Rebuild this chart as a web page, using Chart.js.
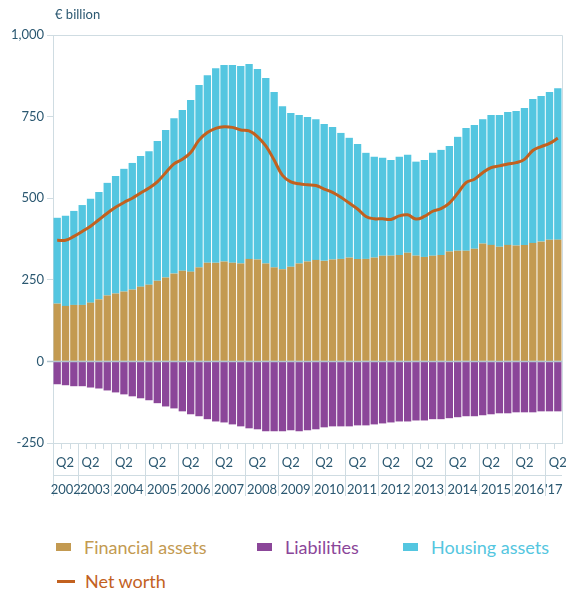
<!DOCTYPE html>
<html>
<head>
<meta charset="utf-8">
<script src="https://cdn.jsdelivr.net/npm/chart.js@4"></script>
<style>
  body { margin: 0; background: #fff; font-family: Lato, sans-serif; }
  #wrap { position: relative; width: 566px; height: 589px; }
  #unit { position: absolute; left: 55px; top: 6px; font-size: 13px; color: #2b5871; }
  canvas { position: absolute; left: 0; top: 0; }
  .item { position: absolute; display: flex; align-items: center; font-size: 18px; white-space: nowrap; }
  .swatch { display: inline-block; margin-right: 13px; }
</style>
</head>
<body>
<div id="wrap">
  <canvas id="chart" width="566" height="505"></canvas>
  <div id="unit">€ billion</div>
  <div id="legend"></div>
</div>
<script>
// ===== Data (quarterly, 2002 Q2 - 2017 Q2) =====
let years = ["2002", "2003", "2004", "2005", "2006", "2007", "2008", "2009",
  "2010", "2011", "2012", "2013", "2014", "2015", "2016", "'17"];
let firstQuarter = 2;
let lastQuarter = 2;

let financialAssets = [177, 170, 173, 173, 180, 190, 202, 208, 214, 220,
  229, 235, 247, 257, 269, 278, 275, 288, 302, 302,
  306, 302, 300, 314, 312, 300, 288, 282, 290, 300,
  306, 311, 308, 312, 314, 318, 314, 314, 318, 324,
  324, 326, 333, 324, 320, 324, 326, 337, 339, 339,
  345, 361, 357, 351, 357, 355, 357, 363, 367, 373, 373];

let liabilities = [-70, -73, -76, -76, -80, -83, -89, -95, -101, -107,
  -113, -119, -128, -138, -144, -153, -162, -168, -177, -184,
  -187, -193, -199, -205, -208, -214, -214, -214, -211, -214,
  -211, -208, -202, -199, -199, -199, -196, -196, -193, -190,
  -187, -184, -184, -181, -181, -177, -177, -174, -171, -168,
  -168, -165, -162, -159, -159, -156, -156, -156, -153, -153, -153];

let housingAssets = [263, 276, 288, 306, 318, 329, 345, 360, 376, 388,
  400, 409, 428, 452, 476, 492, 526, 559, 575, 596,
  602, 606, 605, 597, 584, 568, 537, 500, 471, 455,
  443, 431, 419, 406, 386, 367, 352, 325, 309, 300,
  293, 301, 300, 288, 297, 315, 322, 323, 349, 376,
  379, 381, 398, 404, 407, 412, 419, 441, 446, 452, 464];

let netWorth = [371, 371, 383, 398, 414, 434, 454, 472, 487, 500,
  516, 531, 550, 578, 605, 619, 640, 678, 701, 714,
  719, 717, 709, 706, 689, 660, 617, 570, 550, 544,
  541, 539, 528, 518, 503, 485, 467, 444, 437, 437,
  435, 446, 449, 436, 444, 460, 468, 485, 515, 548,
  558, 578, 594, 599, 605, 609, 619, 646, 658, 668, 684];

let yTicks = [-250, 0, 250, 500, 750, 1000];

// ===== Colours =====
let cFinancial = "#c39a51";
let cLiab = "#8b4699";
let cHousing = "#54c6e0";
let cNet = "#c2611f";
let textColor = "#2b5871";
let axisColor = "#cfdce2";

// ===== Category labels =====
let labels = [];
let quarterOf = [];
years.forEach((y, yi) => {
  let qStart = yi === 0 ? firstQuarter : 1;
  let qEnd = yi === years.length - 1 ? lastQuarter : 4;
  for (let q = qStart; q <= qEnd; q++) {
    labels.push(y + " Q" + q);
    quarterOf.push(q);
  }
});

// ===== X axis drawing (quarter ticks, Q2 labels, year bands) =====
let quarterAxis = {
  id: "quarterAxis",
  afterDatasetsDraw(chart) {
    let ctx = chart.ctx;
    let area = chart.chartArea;
    let y0 = chart.scales.y.getPixelForValue(0);
    ctx.save();
    ctx.strokeStyle = "#b3c5cf";
    ctx.lineWidth = 1.5;
    ctx.beginPath();
    ctx.moveTo(area.left - 6, y0);
    ctx.lineTo(area.right, y0);
    ctx.stroke();
    ctx.restore();
  },
  afterDraw(chart) {
    let ctx = chart.ctx;
    let xs = chart.scales.x;
    let area = chart.chartArea;
    let n = labels.length;
    let step = xs.getPixelForValue(1) - xs.getPixelForValue(0);
    let bottom = area.bottom;

    ctx.save();
    ctx.strokeStyle = axisColor;
    ctx.lineWidth = 1;

    // box top and right edge
    ctx.beginPath();
    ctx.moveTo(area.left, area.top + 0.5);
    ctx.lineTo(area.right + 0.5, area.top + 0.5);
    ctx.lineTo(area.right + 0.5, bottom);
    ctx.stroke();

    // quarter ticks and year separators
    let yearEdges = [area.left];
    for (let i = 1; i < n; i++) {
      let px = Math.round(xs.getPixelForValue(i) - step / 2) + 0.5;
      ctx.beginPath();
      if (quarterOf[i] === 1) {
        ctx.moveTo(px, bottom);
        ctx.lineTo(px, bottom + 53);
        yearEdges.push(px);
      } else {
        ctx.moveTo(px, bottom);
        ctx.lineTo(px, bottom + 6);
      }
      ctx.stroke();
    }
    yearEdges.push(area.right);

    // left axis continues down, divider between rows
    ctx.beginPath();
    ctx.moveTo(area.left + 0.5, bottom);
    ctx.lineTo(area.left + 0.5, bottom + 53);
    ctx.moveTo(area.left, bottom + 32.5);
    ctx.lineTo(area.right, bottom + 32.5);
    ctx.stroke();

    // labels
    ctx.fillStyle = textColor;
    ctx.font = "13px Lato";
    ctx.textBaseline = "middle";
    ctx.textAlign = "center";
    for (let i = 0; i < n; i++) {
      if (quarterOf[i] !== 2) continue;
      let w = ctx.measureText("Q2").width;
      let px = Math.max(xs.getPixelForValue(i), area.left + 3 + w / 2);
      ctx.fillText("Q2", px, bottom + 20);
    }
    years.forEach((y, yi) => {
      let mid = (yearEdges[yi] + yearEdges[yi + 1]) / 2;
      ctx.fillText(y, mid, bottom + 47);
    });
    ctx.restore();
  }
};

// ===== Chart =====
let datasets = [
  { type: "bar", label: "Financial assets", data: financialAssets, backgroundColor: cFinancial, order: 2 },
  { type: "bar", label: "Liabilities", data: liabilities, backgroundColor: cLiab, order: 2 },
  { type: "bar", label: "Housing assets", data: housingAssets, backgroundColor: cHousing, order: 2 },
  { type: "line", label: "Net worth", data: netWorth, borderColor: cNet, borderWidth: 3,
    pointRadius: 0, tension: 0.4, fill: false, order: 1 }
];
datasets.forEach(d => {
  if (d.type === "bar") {
    d.barPercentage = 0.88;
    d.categoryPercentage = 1;
  }
});

new Chart(document.getElementById("chart"), {
  data: { labels: labels, datasets: datasets },
  options: {
    responsive: false,
    animation: false,
    layout: { padding: { top: 35, right: 4, left: 0, bottom: 0 } },
    plugins: { legend: { display: false }, tooltip: { enabled: false } },
    scales: {
      x: {
        stacked: true,
        offset: true,
        ticks: { display: false },
        grid: { display: false },
        border: { color: axisColor },
        afterFit: s => { s.height = 62; }
      },
      y: {
        stacked: true,
        min: -250,
        max: 1000,
        afterBuildTicks: s => { s.ticks = yTicks.map(v => ({ value: v })); },
        ticks: {
          color: textColor,
          padding: 3,
          font: { family: "Lato", size: 13 },
          callback: v => v.toLocaleString("en-US")
        },
        grid: { drawOnChartArea: false, tickLength: 6, color: axisColor },
        border: { color: axisColor },
        afterFit: s => { s.width = 53; }
      }
    }
  },
  plugins: [quarterAxis]
});

// ===== Legend =====
let legendSpots = [[56, 547], [257, 547], [403, 547], [57, 581]];
let legend = document.getElementById("legend");
datasets.forEach((d, i) => {
  let color = d.type === "line" ? d.borderColor : d.backgroundColor;
  let item = document.createElement("div");
  item.className = "item";
  item.style.left = legendSpots[i][0] + "px";
  item.style.top = (legendSpots[i][1] - 12) + "px";
  item.style.height = "24px";
  item.style.color = color;
  let sw = document.createElement("span");
  sw.className = "swatch";
  if (d.type === "line") {
    sw.style.width = "18px";
    sw.style.height = "3px";
    sw.style.marginRight = "10px";
  } else {
    sw.style.width = "15px";
    sw.style.height = "8px";
  }
  sw.style.background = color;
  item.appendChild(sw);
  item.appendChild(document.createTextNode(d.label));
  legend.appendChild(item);
});
</script>
</body>
</html>
